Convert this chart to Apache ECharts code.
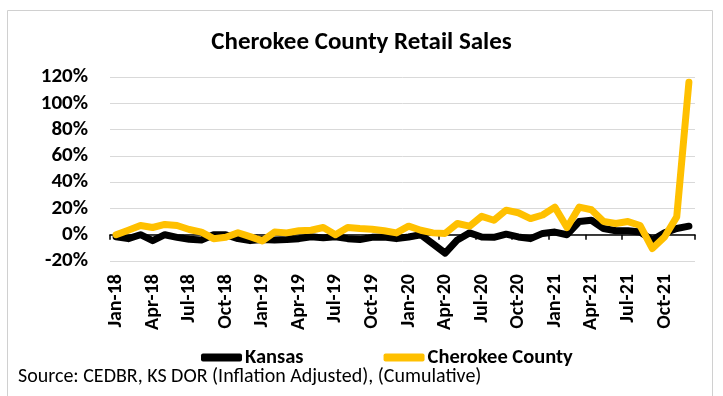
<!DOCTYPE html>
<html><head><meta charset="utf-8">
<script src="https://cdn.jsdelivr.net/npm/echarts@6/dist/echarts.min.js"></script>
<style>html,body{margin:0;padding:0;background:#fff}#c{width:723px;height:396px}</style>
</head><body><div id="c"></div>
<script>
const categories = [
 'Jan-18','Feb-18','Mar-18','Apr-18','May-18','Jun-18','Jul-18','Aug-18','Sep-18','Oct-18','Nov-18','Dec-18',
 'Jan-19','Feb-19','Mar-19','Apr-19','May-19','Jun-19','Jul-19','Aug-19','Sep-19','Oct-19','Nov-19','Dec-19',
 'Jan-20','Feb-20','Mar-20','Apr-20','May-20','Jun-20','Jul-20','Aug-20','Sep-20','Oct-20','Nov-20','Dec-20',
 'Jan-21','Feb-21','Mar-21','Apr-21','May-21','Jun-21','Jul-21','Aug-21','Sep-21','Oct-21','Nov-21','Dec-21'
];
const kansas = [
 -1.5,-3,0,-4.5,0,-2,-3.5,-4,0,0,-3,-4.5,
 -3.7,-4,-3.7,-3,-1.5,-2.4,-1.5,-3,-3.7,-2,-1.7,-3,
 -1.7,0,-7,-14,-4,1.4,-1.7,-2,0.4,-1.7,-3,1,
 2,0,10,11,4.7,3,3,2,-4,1.4,4.7,6.5
];
const cherokee = [
 0,3.4,7,5.5,7.8,7,4,2,-3,-2,1.5,-1.5,
 -4.7,2,1.4,3,3.4,5.5,0,5.5,4.7,4.2,3,1.4,
 6.5,3.4,1.4,1,8.5,6.5,14,11,18.7,16.7,12.3,15,
 21,5.5,21,19,10,8.5,10,7,-10.5,-1.7,13.6,116
];
const yTicks = {min:-20, max:120, step:20};
const FONT = 'Carlito, Lato, sans-serif';

const chart = echarts.init(document.getElementById('c'));
chart.setOption({
  animation:false,
  backgroundColor:'#fff',
  title:{text:'Cherokee County Retail Sales', left:'center', top:25,
    textStyle:{fontFamily:FONT, fontWeight:'bold', fontSize:25, color:'#000'}},
  legend:{left:196, top:342, itemWidth:41, itemHeight:8, itemGap:80, icon:'roundRect',
    textStyle:{fontFamily:FONT, fontWeight:'bold', fontSize:20.5, color:'#000', padding:[0,0,0,-2]},
    data:['Kansas','Cherokee County']},
  grid:{left:110, right:28, top:77, bottom:135},
  xAxis:[
    {type:'category', data:categories, boundaryGap:true, position:'bottom',
     axisLine:{show:false, onZero:false}, axisTick:{show:false},
     axisLabel:{interval:2, rotate:90, fontFamily:FONT, fontWeight:'bold', fontSize:20, color:'#000', margin:13}},
    {type:'category', data:categories, boundaryGap:true, position:'bottom',
     axisLine:{show:true, onZero:true, lineStyle:{color:'#000', width:1.5}},
     axisTick:{show:true, interval:2, length:5, lineStyle:{color:'#000', width:1.5}},
     axisLabel:{show:false}, splitLine:{show:false}}
  ],
  yAxis:{type:'value', min:yTicks.min, max:yTicks.max, interval:yTicks.step,
    axisLine:{show:false}, axisTick:{show:false},
    axisLabel:{formatter:'{value}%', fontFamily:FONT, fontWeight:'bold', fontSize:21, color:'#000', margin:22},
    splitLine:{lineStyle:{color:'#d9d9d9', width:1}}},
  series:[
    {name:'Kansas', type:'line', xAxisIndex:0, data:kansas, showSymbol:false, symbol:'none',
     itemStyle:{color:'#000'}, lineStyle:{color:'#000', width:7, cap:'round', join:'round'}, z:2},
    {name:'Cherokee County', type:'line', xAxisIndex:0, data:cherokee, showSymbol:false, symbol:'none',
     itemStyle:{color:'#FFC000'}, lineStyle:{color:'#FFC000', width:7, cap:'round', join:'round'}, z:3}
  ],
  graphic:[
    {type:'rect', shape:{x:7.5, y:10.5, width:705, height:400}, style:{fill:'none', stroke:'#d0d0d0', lineWidth:1}, silent:true},
    {type:'text', left:18, top:367, style:{text:'Source: CEDBR, KS DOR (Inflation Adjusted), (Cumulative)', fontFamily:FONT, fontSize:20, fill:'#000'}}
  ]
});
</script></body></html>
